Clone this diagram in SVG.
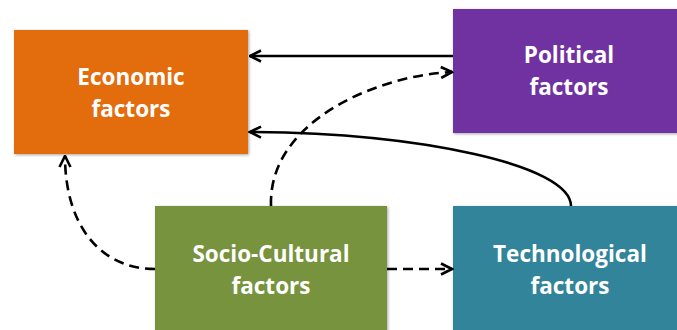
<svg xmlns="http://www.w3.org/2000/svg" width="677" height="330" viewBox="0 0 677 330">
<style>
.box{filter:url(#sh);}
.lbl{font-family:"Open Sans","Liberation Sans",sans-serif;font-weight:bold;font-size:22.5px;fill:#fff;text-anchor:middle;}
.c{fill:none;stroke:#000;stroke-width:2.6;marker-end:url(#ah);}
.d{stroke-dasharray:10 6;}
</style>
<defs>
<filter id="sh" x="-10%" y="-10%" width="120%" height="120%">
<feDropShadow dx="1" dy="1" stdDeviation="1.5" flood-color="#000" flood-opacity="0.35"/>
</filter>
<marker id="ah" viewBox="0 0 14 14" refX="12.5" refY="7" markerWidth="14" markerHeight="14" markerUnits="userSpaceOnUse" orient="auto">
<path d="M1.5,1.5 L12.5,7 L1.5,12.5" fill="none" stroke="#000" stroke-width="2.6"/>
</marker>
</defs>
<g id="economic"><rect class="box" x="14" y="30" width="234" height="124" fill="#E36C0A"/><text class="lbl" x="131" y="85">Economic</text><text class="lbl" x="131" y="117">factors</text></g>
<g id="political"><rect class="box" x="453" y="9" width="232" height="124" fill="#7030A0"/><text class="lbl" x="569" y="63">Political</text><text class="lbl" x="569" y="95">factors</text></g>
<g id="socio"><rect class="box" x="155" y="206" width="232" height="130" fill="#77933C"/><text class="lbl" x="271" y="262">Socio-Cultural</text><text class="lbl" x="271" y="294">factors</text></g>
<g id="tech"><rect class="box" x="453" y="206" width="232" height="130" fill="#31849B"/><text class="lbl" x="570" y="262">Technological</text><text class="lbl" x="570" y="294">factors</text></g>
<g id="connectors">
<path class="c" d="M453,56 L250,56"/>
<path class="c" d="M571,206 C571,165 420,133 250,132"/>
<path class="c d" d="M271,206 C268,120 380,75 452,72"/>
<path class="c d" d="M155,269 C100,269 65,225 65,156"/>
<path class="c d" d="M387,269 L452,269"/>
</g>
</svg>
